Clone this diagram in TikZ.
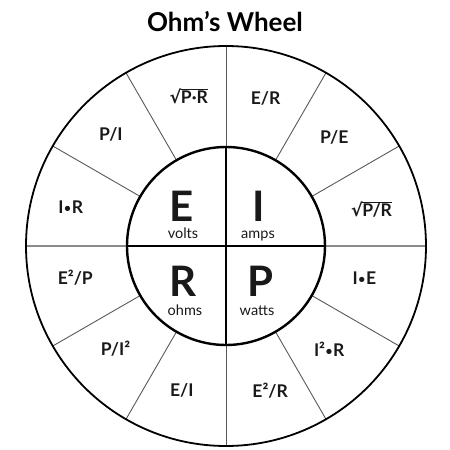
\documentclass[tikz,border=0pt]{standalone}
\usepackage{fontspec}
\setmainfont{Lato}
\newfontfamily\symfont{DejaVu Sans}
\usepackage{tikz}
\definecolor{spoke-gray}{gray}{0.35}
\definecolor{axis-gray}{gray}{0.55}
% radical with a bar over its argument
\newcommand{\rootbar}[1]{{\symfont\char"221A}\kern-0.4pt\vbox{\hrule height 1.1pt\kern1pt\hbox{#1}}}
% small raised dot between factors
\newcommand{\dotop}{\kern0.6pt\raisebox{1.2pt}{\fontsize{12}{12}\selectfont•}\kern0.6pt}

\begin{document}
\begin{tikzpicture}[x=1pt,y=1pt,
  formula/.style={font=\fontsize{17.5}{19}\selectfont\bfseries, text=black!90},
  quantity/.style={font=\fontsize{42}{44}\selectfont\bfseries, anchor=base, inner sep=0pt, text=black!90},
  unit/.style={font=\fontsize{14.5}{16}\selectfont, anchor=base, inner sep=1pt, text=black!90}]%Ohm's Wheel
\useasboundingbox (-226,-204) rectangle (224,246);
\node[font=\fontsize{26}{28}\selectfont\bfseries] (title) at (-1,224) {Ohm’s Wheel};
% spokes
\foreach \a in {0,30,...,330}
  \draw [spoke-gray, line width=0.9pt] (\a:99) -- (\a:200);
\draw [axis-gray, line width=1.5pt] (-200,0) -- (-99,0);
\draw [axis-gray, line width=1.5pt] (99,0) -- (200,0);
  \draw [line width=1.8pt] (0,0) circle [radius=200];
  \draw [line width=2.4pt, fill=white] (0,0) circle [radius=99];
  \draw [line width=2.2pt] (0,99) -- (0,-99);
  \draw [line width=2.2pt] (-99,0) -- (99,0);
% inner quadrants
  \node[quantity] (E) at (-44,25) {E};
  \node[unit] (volts) at (-43,8) {volts};
  \node[quantity] (I) at (33,25) {I};
  \node[unit] (amps) at (32,8) {amps};
  \node[quantity] (R) at (-43,-50) {R};
  \node[unit] (ohms) at (-41,-69) {ohms};
  \node[quantity] (P) at (34,-50) {P};
  \node[unit] (watts) at (31,-69) {watts};
% outer ring
  \node[formula] (ER) at (75:153) {E/R};
  \node[formula] (PE) at (45:153) {P/E};
  \node[formula] (rPR) at (14:150) {\rootbar{P/R}};
  \node[formula] (IE) at (-13:142) {I\dotop E};
  \node[formula] (I2R) at (-45:146) {I²\dotop R};
  \node[formula] (E2R) at (-73:151) {E²/R};
  \node[formula] (EI) at (-107:151) {E/I};
  \node[formula] (PI2) at (-137:151) {P/I²};
  \node[formula] (E2P) at (-168:154) {E²/P};
  \node[formula] (IR) at (166:160) {I\dotop R};
  \node[formula] (PI) at (136:160) {P/I};
  \node[formula] (rPdR) at (104:154) {\rootbar{P·R}};
 \end{tikzpicture}
\end{document}
